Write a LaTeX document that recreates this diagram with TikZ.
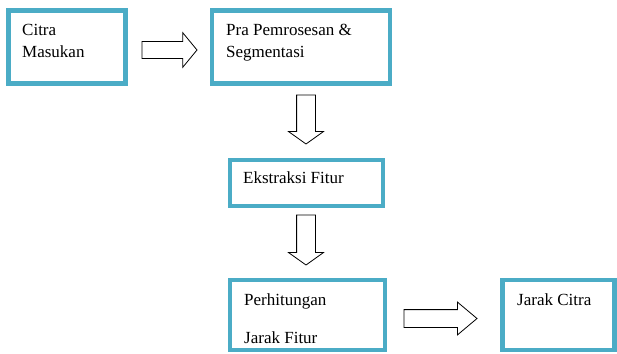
\documentclass[tikz,border=0pt]{standalone}
\usepackage{fontspec}
\setmainfont{Liberation Serif}
\usetikzlibrary{positioning}
\usetikzlibrary{shapes.arrows}
\definecolor{stageblue}{HTML}{4BACC6}

\begin{document}
\begin{tikzpicture}[x=1pt, y=-1pt,
	stage/.style={draw=stageblue, line width=4.5pt, rectangle, inner sep=0pt},
	stagetext/.style={anchor=base west, inner sep=0pt, align=left, font=\fontsize{17}{22}\selectfont},
	blockarrow/.style={draw=black, fill=white, line width=0.8pt, single arrow, anchor=tail, outer sep=0pt}]

	\useasboundingbox (0,0) rectangle (617,353);
	\clip (0,0) rectangle (617,353);

	% top row
	\def\y{47}
	\node [stage, minimum width=117pt, minimum height=73pt] at (67,\y) (citra_in){};
	\node [stage, minimum width=178pt, minimum height=73pt] at (301,\y) (prepro){};
	\node [stagetext] at (22,57) (citra_in_txt){Citra\\Masukan};
	\node [stagetext] at (226,57) (prepro_txt){Pra Pemrosesan \&\\Segmentasi};
	\node [blockarrow, minimum height=55pt, inner sep=8pt, single arrow head extend=9pt, single arrow tip angle=101] at (142,50) (arrow1){};

	% feature extraction
	\node [blockarrow, shape border rotate=270, minimum height=49pt, inner sep=9pt, single arrow head extend=8pt, single arrow tip angle=109] at (306,95) (arrow2){};
	\node [stage, minimum width=153pt, minimum height=46pt] at (306.5,183) (ekstraksi){};
	\node [stagetext] at (243,183) (ekstraksi_txt){Ekstraksi Fitur};
	\node [blockarrow, shape border rotate=270, minimum height=50pt, inner sep=9pt, single arrow head extend=8pt, single arrow tip angle=109] at (306,215) (arrow3){};

	% bottom row
	\def\y{315}
	\node [stage, minimum width=155pt, minimum height=70pt] at (307.5,\y) (hitung){};
	\node [stage, minimum width=112pt, minimum height=70pt] at (558.5,\y) (jarak){};
	\node [stagetext] at (244,343) (hitung_txt){Perhitungan\\[16pt]Jarak Fitur};
	\node [stagetext] at (517,305) (jarak_txt){Jarak Citra};
	\node [blockarrow, minimum height=73pt, inner sep=8.5pt, single arrow head extend=7.5pt, single arrow tip angle=80] at (404,318.5) (arrow4){};

\end{tikzpicture}
\end{document}
